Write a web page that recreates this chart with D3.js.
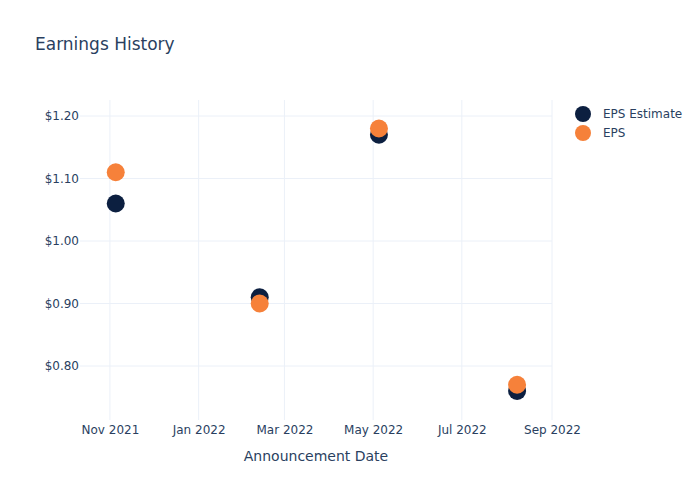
<!DOCTYPE html>
<html>
<head>
<meta charset="utf-8">
<script src="https://cdn.jsdelivr.net/npm/d3@7"></script>
<style>
  body { margin: 0; background: #fff; }
  text { font-family: "DejaVu Sans", "Open Sans", sans-serif; }
</style>
</head>
<body>
<svg id="chart" width="700" height="500"></svg>
<script>
const dates = ["2021-11-05", "2022-02-12", "2022-05-05", "2022-08-08"];
const epsEstimate = [1.06, 0.91, 1.17, 0.76];
const eps = [1.11, 0.90, 1.18, 0.77];
const seriesNames = ["EPS Estimate", "EPS"];
const yTicks = [0.80, 0.90, 1.00, 1.10, 1.20];
const xTickDates = ["2021-11-01", "2022-01-01", "2022-03-01", "2022-05-01", "2022-07-01", "2022-09-01"];

const W = 700, H = 500;
const m = {l: 80, r: 148, t: 100, b: 80};
const colors = ["#0c1f40", "#f6813a"];
const parse = d3.utcParse("%Y-%m-%d");

const svg = d3.select("#chart");
svg.append("rect").attr("width", W).attr("height", H).attr("fill", "#fff");

const x = d3.scaleUtc()
  .domain([new Date(Date.UTC(2021, 9, 11, 10)), parse("2022-09-01")])
  .range([m.l, W - m.r]);
const y = d3.scaleLinear().domain([0.7136, 1.2256]).range([H - m.b, m.t]);

// grid
const g = svg.append("g");
g.selectAll(".vg").data(xTickDates.map(parse)).enter().append("line")
  .attr("x1", d => x(d)).attr("x2", d => x(d))
  .attr("y1", m.t).attr("y2", H - m.b)
  .attr("stroke", "#ebf0f8").attr("stroke-width", 1);
g.selectAll(".hg").data(yTicks).enter().append("line")
  .attr("x1", m.l).attr("x2", W - m.r)
  .attr("y1", d => y(d)).attr("y2", d => y(d))
  .attr("stroke", "#ebf0f8").attr("stroke-width", 1);

// axes
const xAxis = d3.axisBottom(x).tickValues(xTickDates.map(parse))
  .tickFormat(d3.utcFormat("%b %Y")).tickSize(0).tickPadding(5);
const xa = svg.append("g").attr("transform", `translate(0,${H - m.b})`).call(xAxis);
xa.select(".domain").remove();
xa.selectAll("text").attr("fill", "#2a3f5f").style("font-size", "12px");

const yAxis = d3.axisLeft(y).tickValues(yTicks)
  .tickFormat(d => "$" + d3.format(".2f")(d)).tickSize(0).tickPadding(1);
const ya = svg.append("g").attr("transform", `translate(${m.l},0)`).call(yAxis);
ya.select(".domain").remove();
ya.selectAll("text").attr("fill", "#2a3f5f").style("font-size", "12px");

// points
const series = [epsEstimate, eps];
series.forEach((vals, i) => {
  svg.append("g").selectAll("circle").data(vals).enter().append("circle")
    .attr("cx", (d, j) => x(parse(dates[j])))
    .attr("cy", d => y(d))
    .attr("r", 9)
    .attr("fill", colors[i]);
});

// title
svg.append("text").attr("x", 35).attr("y", 50).text("Earnings History")
  .attr("fill", "#2a3f5f").style("font-size", "17px");

// x axis title
svg.append("text").attr("x", (m.l + W - m.r) / 2).attr("y", 461)
  .attr("text-anchor", "middle").text("Announcement Date")
  .attr("fill", "#2a3f5f").style("font-size", "14px");

// legend
const lg = svg.append("g");
seriesNames.forEach((n, i) => {
  lg.append("circle").attr("cx", 583).attr("cy", 114 + i * 19).attr("r", 8).attr("fill", colors[i]);
  lg.append("text").attr("x", 603).attr("y", 118 + i * 19).text(n)
    .attr("fill", "#2a3f5f").style("font-size", "12px");
});
</script>
</body>
</html>
